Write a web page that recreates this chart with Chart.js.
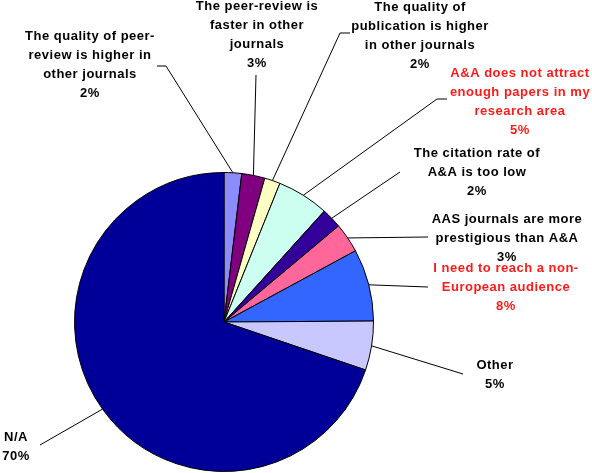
<!DOCTYPE html>
<html>
<head>
<meta charset="utf-8">
<script src="https://cdn.jsdelivr.net/npm/chart.js@4/dist/chart.umd.min.js"></script>
<style>
  html, body { margin: 0; padding: 0; background: #fff; }
  #chart { display: block; }
</style>
</head>
<body>
<canvas id="chart" width="592" height="473"></canvas>
<script>
// reasons for not choosing A&A, clockwise from 12 o'clock
const categories = [
  ["The quality of peer-", "review is higher in", "other journals"],
  ["The peer-review is", "faster in other", "journals"],
  ["The quality of", "publication is higher", "in other journals"],
  ["A&A does not attract", "enough papers in my", "research area"],
  ["The citation rate of", "A&A is too low"],
  ["AAS journals are more", "prestigious than A&A"],
  ["I need to reach a non-", "European audience"],
  ["Other"],
  ["N/A"]
];
const shares = [1.9, 2.5, 1.7, 5.6, 2.2, 3.2, 7.8, 5.3, 69.8];
const percentLabels = ["2%", "3%", "2%", "5%", "2%", "3%", "8%", "5%", "70%"];

const sliceColors = ["#8c8cff", "#800080", "#ffffc4", "#ccfff0", "#330099",
                     "#ff6699", "#3366ff", "#c8c8ff", "#000099"];
const textColors = ["#000", "#000", "#000", "#ff1a1a", "#000", "#000", "#ff1a1a", "#000", "#000"];

// where each label sits and where its leader line begins
const labelLayout = [
  { x: 90,  y: 36,  leader: [[157, 66], [166, 66]] },
  { x: 257, y: 6,   leader: [[256, 75]] },
  { x: 420, y: 7,   leader: [[350, 33], [340, 33]] },
  { x: 520, y: 73,  leader: [[447, 99], [437, 99]] },
  { x: 477, y: 153, leader: [[400, 172]] },
  { x: 507, y: 219, leader: [[428, 237]] },
  { x: 506, y: 268, leader: [[428, 287]] },
  { x: 495, y: 365, leader: [[463, 374]] },
  { x: 16,  y: 437, leader: [[40, 445]] }
];
const LINE_H = 19;

const outerLabels = {
  id: "outerLabels",
  afterDraw(chart) {
    const ctx = chart.ctx;
    const arcs = chart.getDatasetMeta(0).data;
    ctx.save();
    arcs.forEach((arc, i) => {
      const p = arc.getProps(["x", "y", "startAngle", "endAngle", "outerRadius"], true);
      const mid = (p.startAngle + p.endAngle) / 2;
      const ax = p.x + Math.cos(mid) * p.outerRadius;
      const ay = p.y + Math.sin(mid) * p.outerRadius;
      const lay = labelLayout[i];

      ctx.strokeStyle = "#000";
      ctx.lineWidth = 1;
      ctx.beginPath();
      lay.leader.forEach((pt, k) => {
        if (k === 0) ctx.moveTo(pt[0], pt[1]);
        else ctx.lineTo(pt[0], pt[1]);
      });
      ctx.lineTo(ax, ay);
      ctx.stroke();

      const lines = categories[i].concat([percentLabels[i]]);
      ctx.fillStyle = textColors[i];
      ctx.font = "bold 13px 'Liberation Sans', Arial, sans-serif";
      ctx.letterSpacing = "0.5px";
      ctx.textAlign = "center";
      ctx.textBaseline = "middle";
      lines.forEach((t, k) => {
        ctx.fillText(t, lay.x, lay.y + k * LINE_H);
      });
    });
    ctx.restore();
  }
};

new Chart(document.getElementById("chart"), {
  type: "pie",
  data: {
    labels: categories.map(c => c.join(" ")),
    datasets: [{
      data: shares,
      backgroundColor: sliceColors,
      borderColor: "#000",
      borderWidth: 1
    }]
  },
  options: {
    responsive: false,
    animation: false,
    layout: { padding: { left: 74, right: 218, top: 172, bottom: 1 } },
    plugins: {
      legend: { display: false },
      tooltip: { enabled: false }
    }
  },
  plugins: [outerLabels]
});
</script>
</body>
</html>
